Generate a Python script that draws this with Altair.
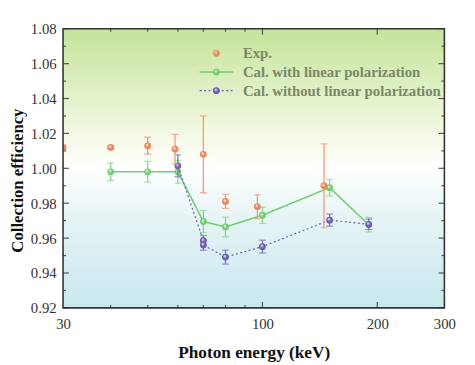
import altair as alt
import pandas as pd

# ---------------- data ----------------
exp_energy = [30, 40, 50, 59, 70, 80, 97, 145]
exp_eff = [1.012, 1.012, 1.013, 1.011, 1.008, 0.981, 0.978, 0.990]
exp_err = [0.001, 0.001, 0.0048, 0.0085, 0.022, 0.004, 0.0068, 0.024]

lin_energy = [40, 50, 60, 70, 80, 100, 150, 190]
lin_eff = [0.998, 0.998, 0.998, 0.9695, 0.9664, 0.9731, 0.9889, 0.9677]
lin_err = [0.005, 0.006, 0.0065, 0.0063, 0.0056, 0.0047, 0.0047, 0.0042]

nolin_energy = [60, 70, 70, 80, 100, 150, 190]
nolin_eff = [1.0014, 0.9585, 0.9560, 0.9491, 0.9551, 0.9703, 0.9679]
nolin_err = [0.0063, 0.003, 0.003, 0.004, 0.0037, 0.0035, 0.003]

x_labels = [30, 100, 200, 300]
x_major_ticks = [100, 200]
x_minor_ticks = [40, 50, 60, 70, 80, 90]
y_major = [0.92, 0.94, 0.96, 0.98, 1.00, 1.02, 1.04, 1.06, 1.08]
y_minor = [0.93, 0.95, 0.97, 0.99, 1.01, 1.03, 1.05, 1.07]

legend_labels = ["Exp.", "Cal. with linear polarization", "Cal. without linear polarization"]

# ---------------- style ----------------
W, H = 388, 284
FONT = "Liberation Serif"
C_EXP = "#ef8658"
C_EXP_BAR = "#f29a78"
C_LIN = "#6fcf6f"
C_LIN_BAR = "#86d886"
C_NOL = "#6a5fae"
C_NOL_BAR = "#7a70bd"
LEG_COL = "#7b8868"
X_TITLE = "Photon energy (keV)"
Y_TITLE = "Collection efficiency"


def frame(x, y, e):
    d = pd.DataFrame({"E": x, "v": y, "err": e})
    d["lo"] = d["v"] - d["err"]
    d["hi"] = d["v"] + d["err"]
    d["i"] = range(len(d))
    return d


d_exp = frame(exp_energy, exp_eff, exp_err)
d_lin = frame(lin_energy, lin_eff, lin_err)
d_nol = frame(nolin_energy, nolin_eff, nolin_err)

xscale = alt.Scale(type="log", domain=[30, 300], nice=False)
yscale = alt.Scale(domain=[0.92, 1.08], nice=False, zero=False)
X_AX = alt.Axis(values=x_labels, format="d", ticks=False, domain=False, grid=False,
                labelFlush=False, labelPadding=9, titlePadding=12, titleFontSize=17.5)
Y_AX = alt.Axis(values=y_major, format=".2f", ticks=False, domain=False, grid=False,
                labelPadding=7, titlePadding=4, titleY=154)


def X(f):
    return alt.X(f, scale=xscale, axis=X_AX, title=X_TITLE)


def Y(f):
    return alt.Y(f, scale=yscale, axis=Y_AX, title=Y_TITLE)


one = pd.DataFrame({"a": [0]})


def ball(color):
    return alt.Gradient(
        gradient="radial",
        stops=[alt.GradientStop(color="#ffffff", offset=0),
               alt.GradientStop(color=color, offset=0.5),
               alt.GradientStop(color=color, offset=1)],
        x1=0.38, y1=0.32, r1=0, x2=0.5, y2=0.5, r2=0.55,
    )


bg = alt.Chart(one).mark_rect(
    color=alt.Gradient(
        gradient="linear",
        stops=[alt.GradientStop(color="#c4e39a", offset=0),
               alt.GradientStop(color="#edf6d9", offset=0.32),
               alt.GradientStop(color="#ffffff", offset=0.5),
               alt.GradientStop(color="#e6f4f6", offset=0.68),
               alt.GradientStop(color="#c8e8ee", offset=1)],
        x1=0, x2=0, y1=0, y2=1,
    )
).encode(x=alt.value(0), x2=alt.value(W), y=alt.value(0), y2=alt.value(H))


def series_layers(d, bar_col, pt_col, line=None, clip=False):
    base = alt.Chart(d)
    layers = []
    if line is not None:
        layers.append(base.mark_line(clip=clip, **line).encode(
            x=X("E:Q"), y=Y("v:Q"), order="i:Q"))
    layers.append(base.mark_rule(color=bar_col, strokeWidth=1.3, clip=clip).encode(
        x=X("E:Q"), y=Y("lo:Q"), y2="hi:Q"))
    layers.append(base.transform_fold(["lo", "hi"], as_=["k", "cap"]).mark_tick(
        orient="horizontal", size=7, thickness=1.3, color=bar_col, clip=clip).encode(
        x=X("E:Q"), y=Y("cap:Q")))
    layers.append(base.mark_circle(size=48, opacity=1, color=ball(pt_col), clip=clip).encode(
        x=X("E:Q"), y=Y("v:Q")))
    return layers


lin_layers = series_layers(d_lin, C_LIN_BAR, C_LIN, line=dict(color=C_LIN, strokeWidth=1.5))
nol_layers = series_layers(d_nol, C_NOL_BAR, C_NOL,
                           line=dict(color=C_NOL, strokeWidth=1.2, strokeDash=[2, 2.5]))
exp_layers = series_layers(d_exp, C_EXP_BAR, C_EXP, clip=True)

# inward tick marks
ty_maj = pd.DataFrame({"t": y_major})
ty_min = pd.DataFrame({"t": y_minor})
tx_maj = pd.DataFrame({"t": x_major_ticks})
tx_min = pd.DataFrame({"t": x_minor_ticks})
tick_col = "#555555"
ticks = []
for dfr, L in ((ty_maj, 6), (ty_min, 3)):
    ticks.append(alt.Chart(dfr).mark_rule(color=tick_col, strokeWidth=1.2).encode(
        y=Y("t:Q"), x=alt.value(0), x2=alt.value(L)))
    ticks.append(alt.Chart(dfr).mark_rule(color=tick_col, strokeWidth=1.2).encode(
        y=Y("t:Q"), x=alt.value(W - L), x2=alt.value(W)))
for dfr, L in ((tx_maj, 6), (tx_min, 3)):
    ticks.append(alt.Chart(dfr).mark_rule(color=tick_col, strokeWidth=1.2).encode(
        x=X("t:Q"), y=alt.value(H - L), y2=alt.value(H)))
    ticks.append(alt.Chart(dfr).mark_rule(color=tick_col, strokeWidth=1.2).encode(
        x=X("t:Q"), y=alt.value(0), y2=alt.value(L)))

border = alt.Chart(one).mark_rect(fillOpacity=0, stroke="#333333", strokeWidth=1.6).encode(
    x=alt.value(0), x2=alt.value(W), y=alt.value(0), y2=alt.value(H))

# legend
LY = [25, 44, 63]
LX_SYM, LX_L1, LX_L2, LX_TXT = 156, 139, 173, 183
leg = []
leg.append(alt.Chart(one).mark_circle(size=48, opacity=1, color=ball(C_EXP)).encode(
    x=alt.value(LX_SYM), y=alt.value(LY[0])))
leg.append(alt.Chart(one).mark_rule(color=C_LIN, strokeWidth=1.5).encode(
    x=alt.value(LX_L1), x2=alt.value(LX_L2), y=alt.value(LY[1])))
leg.append(alt.Chart(one).mark_circle(size=48, opacity=1, color=ball(C_LIN)).encode(
    x=alt.value(LX_SYM), y=alt.value(LY[1])))
leg.append(alt.Chart(one).mark_rule(color=C_NOL, strokeWidth=1.2, strokeDash=[2, 2.5]).encode(
    x=alt.value(LX_L1), x2=alt.value(LX_L2), y=alt.value(LY[2])))
leg.append(alt.Chart(one).mark_circle(size=48, opacity=1, color=ball(C_NOL)).encode(
    x=alt.value(LX_SYM), y=alt.value(LY[2])))
for lab, yy in zip(legend_labels, LY):
    leg.append(alt.Chart(one).mark_text(text=lab, font=FONT, fontSize=15, fontWeight="bold",
                                        color=LEG_COL, align="left", baseline="middle").encode(
        x=alt.value(LX_TXT), y=alt.value(yy)))

chart = alt.layer(
    bg, *ticks, *lin_layers, *nol_layers, *exp_layers, border, *leg
).properties(
    width=W, height=H,
    autosize=alt.AutoSizeParams(type="none"),
    padding={"left": 56, "top": 18, "right": 23, "bottom": 55},
).configure_view(stroke=None).configure_axis(
    labelFont=FONT, labelFontSize=15, labelColor="#333333",
    titleFont=FONT, titleFontSize=17, titleFontWeight="bold", titleColor="#111111",
)

chart.save("out.html", embed_options={"renderer": "svg", "actions": False})
